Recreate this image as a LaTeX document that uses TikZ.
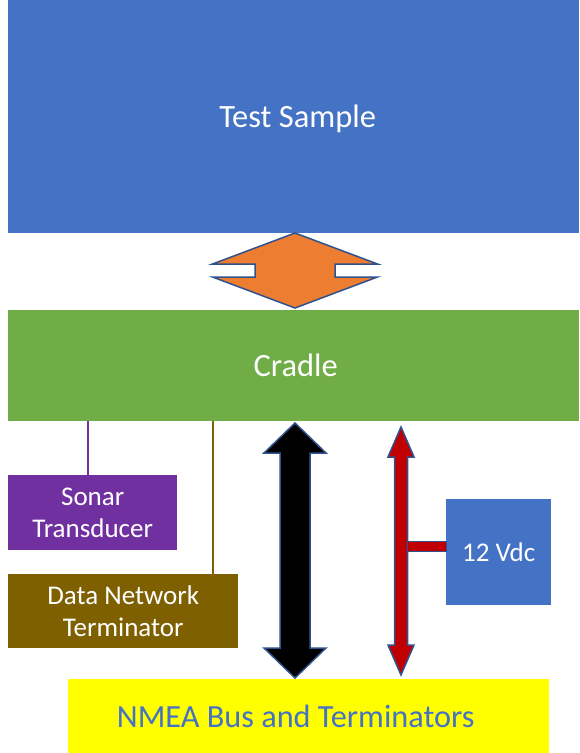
\documentclass[tikz,border=0pt]{standalone}
\usepackage{fontspec}
\setmainfont{Carlito}
\definecolor{sampleblue}{HTML}{4472C4}
\definecolor{cradlegreen}{HTML}{70AD47}
\definecolor{sonarpurple}{HTML}{7030A0}
\definecolor{netbrown}{HTML}{7F6000}
\definecolor{linkorange}{HTML}{ED7D31}
\definecolor{edgeblue}{HTML}{2F528F}
\definecolor{powerred}{HTML}{C00000}
\definecolor{busyellow}{HTML}{FFFF00}
% vertical double arrow: [style] x, top, bottom, head half width, shaft half width, head length
\newcommand{\vdoublearrow}[7][]{%
  \draw[#1] (#2,#3) -- ({#2+#5},{#3+#7}) -- ({#2+#6},{#3+#7})
    -- ({#2+#6},{#4-#7}) -- ({#2+#5},{#4-#7}) -- (#2,#4)
    -- ({#2-#5},{#4-#7}) -- ({#2-#6},{#4-#7})
    -- ({#2-#6},{#3+#7}) -- ({#2-#5},{#3+#7}) -- cycle;}

\begin{document}
\begin{tikzpicture}[x=1pt,y=-1pt,
    block/.style={anchor=north west,inner sep=0pt,text=white,align=center},
    bigtext/.style={font=\fontsize{32.5}{38}\selectfont},
    smalltext/.style={font=\fontsize{27}{32}\selectfont},
    link/.style={draw=edgeblue,line width=1.5pt,line join=miter}]
  \useasboundingbox (0,0) rectangle (579,753);

  \node[block,bigtext,fill=sampleblue,minimum width=571pt,minimum height=233pt,
    text depth=0pt] (sample) at (8,0) {\hspace*{8pt}Test Sample};
  \node[block,bigtext,fill=cradlegreen,minimum width=571pt,minimum height=111pt]
    (cradle) at (8,310) {\hspace*{4pt}Cradle};
  \node[block,smalltext,fill=sonarpurple,minimum width=169pt,minimum height=75pt]
    (sonar) at (8,475) {Sonar\\Transducer};
  \node[block,smalltext,fill=netbrown,minimum width=230pt,minimum height=74pt]
    (term) at (8,574) {Data Network\\Terminator};
  \node[block,smalltext,fill=sampleblue,minimum width=105pt,minimum height=106pt]
    (vdc) at (446,499) {12 Vdc};
  \node[block,font=\fontsize{32.3}{38}\selectfont,text=sampleblue,fill=busyellow,
    minimum width=481pt,minimum height=74pt] (bus) at (68,679)
    {NMEA Bus and Terminators\hspace*{26pt}};

  % taps off the cradle
  \coordinate (sonartap) at (88,421);
  \coordinate (termtap) at (213,421);
  \draw[sonarpurple,line width=2pt] (sonartap) -- (sonartap |- sonar.north);
  \draw[netbrown,line width=2pt] (termtap) -- (termtap |- term.north);

  % arrows
  \vdoublearrow[link,fill=linkorange]{295}{233}{308}{82.5}{40}{31}
  \vdoublearrow[link,fill=black]{295}{423}{678}{31}{15}{30}
  \vdoublearrow[link,fill=powerred]{401}{427}{675}{13}{6.5}{30}
  \draw[draw=edgeblue,line width=0.8pt,fill=powerred] (407,541) rectangle ([yshift=1pt]vdc.west);
\end{tikzpicture}
\end{document}
